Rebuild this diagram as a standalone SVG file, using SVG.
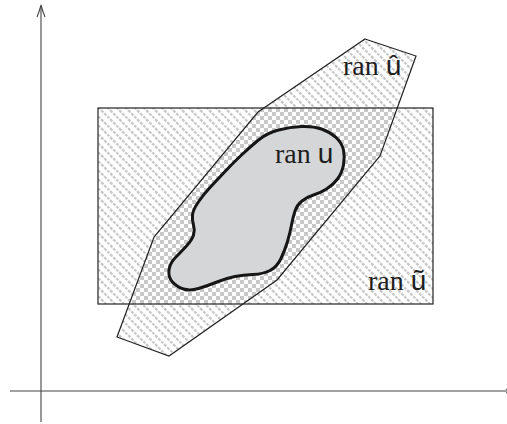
<svg xmlns="http://www.w3.org/2000/svg" width="507" height="424" viewBox="0 0 507 424">
  <style>
    .outline { fill: none; stroke: #222; stroke-width: 1.2; stroke-linejoin: miter; }
    .axis { fill: none; stroke: #444; stroke-width: 1.1; }
    .lbl { font-family: "Liberation Serif", "Times New Roman", serif; font-size: 28px; fill: #1e1e1e; }
    .u { font-family: "Liberation Sans", Arial, sans-serif; }
  </style>
  <defs>
    <pattern id="stripes" patternUnits="userSpaceOnUse" width="9" height="9">
      <rect width="9" height="9" fill="#fff"/>
      <path d="M-1,-1 L10,10 M-1,8 L1,10 M8,-1 L10,1" stroke="#c8c8c8" stroke-width="2.2" stroke-dasharray="3.2 1.2"/>
    </pattern>
    <pattern id="checker" patternUnits="userSpaceOnUse" width="8" height="8">
      <rect width="8" height="8" fill="#fff"/>
      <rect width="4" height="4" fill="#c8c8c8"/>
      <rect x="4" y="4" width="4" height="4" fill="#c8c8c8"/>
    </pattern>
    <clipPath id="rectClip">
      <rect x="98" y="108" width="335" height="196"/>
    </clipPath>
    <polygon id="hexShape" points="365,39 416,56 380,156 277,280 169,356 117,337 154,237 258,112"/>
  </defs>

  <g id="axes">
    <line class="axis" x1="41" y1="422" x2="41" y2="6"/>
    <path class="axis" d="M37,17 Q39.5,11 41,5 Q42.5,11 45,17"/>
    <line class="axis" x1="10" y1="391" x2="507" y2="391"/>
    <path class="axis" d="M506,389 L510,391 L506,393"/>
  </g>

  <g id="ran-u-tilde">
    <rect x="98" y="108" width="335" height="196" fill="url(#stripes)"/>
  </g>

  <g id="ran-u-hat">
    <use href="#hexShape" fill="url(#stripes)"/>
    <use href="#hexShape" fill="url(#checker)" clip-path="url(#rectClip)"/>
    <rect class="outline" x="98" y="108" width="335" height="196"/>
    <use href="#hexShape" class="outline"/>
    <text class="lbl" x="343" y="75">ran <tspan class="u">û</tspan></text>
  </g>

  <g id="ran-u">
    <path fill="#d5d6d8" stroke="#161616" stroke-width="3" d="M 258.5,140 Q 267,133 278.5,130 Q 290,127 301.5,126.5 Q 313,126 321.5,129 Q 330,132 336,137.5 Q 342,143 343.5,150 Q 345,157 343.5,165 Q 342,173 337.5,179 Q 333,185 326.5,189 Q 320,193 313.5,195 Q 307,197 302,201 Q 297,205 295,211 Q 293,217 291.5,225 Q 290,233 287.5,241.5 Q 285,250 281,258.5 Q 277,267 270,270.5 Q 263,274 253,274.5 Q 243,275 235,276.5 Q 227,278 217,282 Q 207,286 198.5,288.5 Q 190,291 183.5,289 Q 177,287 172.5,282 Q 168,277 169,270 Q 170,263 175,258 Q 180,253 186,246.5 Q 192,240 193.5,235 Q 195,230 193.5,225 Q 192,220 192.5,215 Q 193,210 198,202.5 Q 203,195 210,187.5 Q 217,180 225,171.5 Q 233,163 241.5,155 Q 250,147 258.5,140 Z"/>
    <text class="lbl" x="275" y="163">ran <tspan class="u">u</tspan></text>
  </g>

  <g id="label-u-tilde">
    <text class="lbl" x="368" y="290">ran <tspan class="u">ũ</tspan></text>
  </g>
</svg>
